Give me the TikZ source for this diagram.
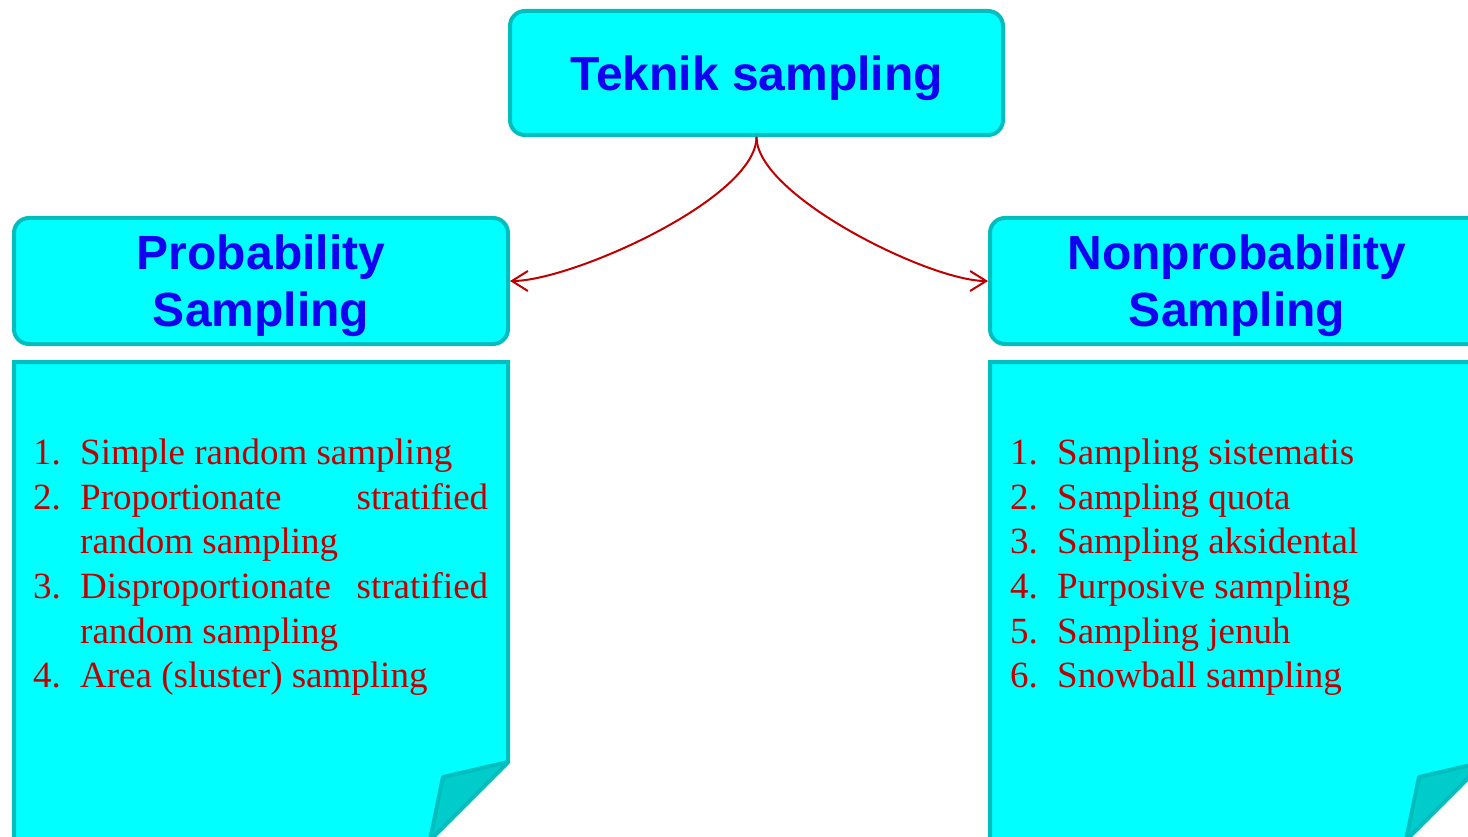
\documentclass[tikz,border=0pt]{standalone}
\usepackage{fontspec}
\setmainfont{Liberation Serif}
\newfontfamily\headfont{Liberation Sans}
\usetikzlibrary{arrows.meta}
\definecolor{boxfill}{HTML}{00FFFF}
\definecolor{boxline}{HTML}{00BEBE}
\definecolor{foldfill}{HTML}{00CCCC}
\definecolor{headblue}{HTML}{1400F0}
\definecolor{listred}{HTML}{C00000}
\newcommand{\sampitem}[2]{\par\noindent\hangindent=47pt\hangafter=1\makebox[47pt][l]{#1}#2\par}

\begin{document}
\begin{tikzpicture}[x=1pt, y=1pt, > = {Straight Barb[length=16pt,width=20pt]},
    head/.style = {draw=boxline, fill=boxfill, line width=4pt, rounded corners=15pt, inner sep=0pt, text depth=0pt, text=headblue, font=\headfont\bfseries\fontsize{48}{57}\selectfont, align=center},
    note/.style = {draw=boxline, fill=boxfill, line width=4pt},
    fold/.style = {draw=boxline, fill=foldfill, line width=4pt, line join=round},
    items/.style = {anchor=base west, inner sep=0pt, text=listred, align=justify, font=\fontsize{37}{44.6}\selectfont},
    link/.style = {->, listred, line width=2pt, out=-90, looseness=0.55}]

    \useasboundingbox (0,0) rectangle (1468,-837);

    % notes with folded corner
    \foreach \dx in {0,976} {
        \draw[note] (14+\dx,-362) -- (508+\dx,-362) -- (508+\dx,-762) -- (430+\dx,-840) -- (14+\dx,-840) -- cycle;
        \draw[fold] (508+\dx,-762) -- (443+\dx,-777) -- (430+\dx,-840) -- cycle;
    }

    % headers
    \node[head, minimum width=493, minimum height=124] (teknik) at (756.5,-73) {Teknik sampling};
    \node[head, minimum width=494, minimum height=126] (prob) at (261,-281) {Probability\\Sampling};
    \node[head, minimum width=494, minimum height=126] (nonprob) at (1237,-281) {Nonprobability\\Sampling};

    % lists
    \node[items, text width=455] (problist) at (33,-420) {\hyphenpenalty=10000
        \sampitem{1.}{Simple random sampling}
        \sampitem{2.}{Proportionate stratified\linebreak random sampling}
        \sampitem{3.}{Disproportionate stratified\linebreak random sampling}
        \sampitem{4.}{Area (sluster) sampling}};
    \node[items, text width=440] (nonproblist) at (1010,-420) {\hyphenpenalty=10000
        \sampitem{1.}{Sampling sistematis}
        \sampitem{2.}{Sampling quota}
        \sampitem{3.}{Sampling aksidental}
        \sampitem{4.}{Purposive sampling}
        \sampitem{5.}{Sampling jenuh}
        \sampitem{6.}{Snowball sampling}};

    % arrows
    \draw[link, in=0] (teknik.south) to (prob.east);
    \draw[link, in=180] (teknik.south) to (nonprob.west);

\end{tikzpicture}
\end{document}
